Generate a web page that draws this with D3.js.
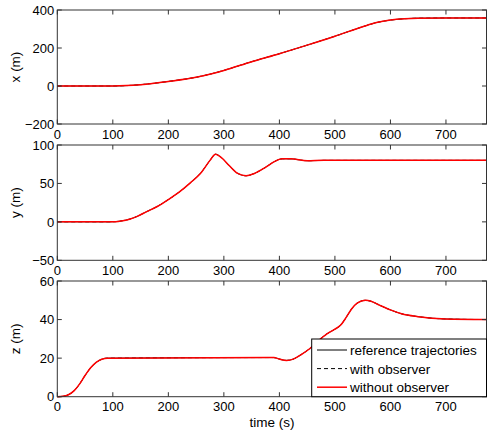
<!DOCTYPE html>
<html>
<head>
<meta charset="utf-8">
<script src="https://cdn.jsdelivr.net/npm/d3@7"></script>
<style>
  body { margin: 0; background: #fff; }
  svg { display: block; }
  text { font-family: "Liberation Sans", Arial, sans-serif; fill: #000; }
</style>
</head>
<body>
<svg width="487" height="437"></svg>
<script>
// data (time in s, position in m)
var xTime = [0, 100, 125, 150, 200, 250, 280, 300, 350, 400, 450, 500, 550, 575, 600, 625, 650, 700, 773];
var xPos  = [0, 0, 2, 7, 24, 46, 66, 82, 128, 170, 215, 262, 312, 334, 347, 354, 357, 358, 358];

var yTime = [0, 95, 105, 115, 130, 145, 160, 180, 200, 220, 240, 260, 275, 285, 295, 310, 325, 340, 355, 375, 390, 405, 420, 450, 480, 500, 773];
var yPos  = [0, 0, 0.3, 1.2, 3.5, 7.5, 13, 20, 29, 39, 51, 65, 80, 88, 84, 73, 63, 60, 63, 71, 78, 82, 82, 79.5, 80, 80, 80];

var zTime = [0, 10, 20, 30, 40, 50, 60, 70, 80, 90, 380, 390, 400, 413, 425, 440, 455, 470, 485, 500, 510, 520, 530, 540, 555, 565, 580, 600, 620, 650, 700, 773];
var zPos  = [0, 0.2, 1, 3, 6.5, 11, 15, 17.8, 19.4, 20, 20.3, 20.3, 19.5, 18.8, 19.5, 22, 25, 29, 32.5, 35, 37, 41, 45.5, 48.5, 50, 49.5, 47.5, 45, 43, 41.5, 40.3, 40];

var timeTicks = [0, 100, 200, 300, 400, 500, 600, 700];
var panelNames = ["x (m)", "y (m)", "z (m)"];
var panelDomains = [[-200, 400], [-50, 100], [0, 60]];
var panelTicks = [[-200, 0, 200, 400], [-50, 0, 50, 100], [0, 20, 40, 60]];
var legendNames = ["reference trajectories", "with observer", "without observer"];

var svg = d3.select("svg");
var left = 57.3, right = 486.5;
var tops = [10, 145, 281], bottoms = [124, 260.3, 396.7];
var fs = 13;

var xScale = d3.scaleLinear().domain([0, 773]).range([left, right]);

var panels = [
  {t: xTime, v: xPos},
  {t: yTime, v: yPos},
  {t: zTime, v: zPos}
];

var fmt = function(d) { return d < 0 ? "\u2212" + Math.abs(d) : "" + d; };
var tickLen = 4.5;

panels.forEach(function(p, i) {
  var yScale = d3.scaleLinear().domain(panelDomains[i]).range([bottoms[i], tops[i]]);
  var g = svg.append("g");
  var pts = p.t.map(function(t, k) { return [t, p.v[k]]; });

  var line = d3.line()
    .x(function(d) { return xScale(d[0]); })
    .y(function(d) { return yScale(d[1]); })
    .curve(d3.curveMonotoneX);

  // reference and with-observer lie under the red one
  g.append("path").attr("d", line(pts)).attr("fill", "none").attr("stroke", "#000").attr("stroke-width", 0.8);
  g.append("path").attr("d", line(pts)).attr("fill", "none").attr("stroke", "#000").attr("stroke-width", 0.8).attr("stroke-dasharray", "4,3");
  g.append("path").attr("d", line(pts)).attr("fill", "none").attr("stroke", "#ff0000").attr("stroke-width", 1.5);

  // ticks inside the box, on all four sides
  timeTicks.forEach(function(t) {
    var x = xScale(t);
    g.append("line").attr("x1", x).attr("x2", x).attr("y1", bottoms[i]).attr("y2", bottoms[i] - tickLen).attr("stroke", "#333");
    g.append("line").attr("x1", x).attr("x2", x).attr("y1", tops[i]).attr("y2", tops[i] + tickLen).attr("stroke", "#333");
    g.append("text").attr("x", x).attr("y", bottoms[i] + 14.5).attr("text-anchor", "middle").attr("font-size", fs).text(t);
  });
  panelTicks[i].forEach(function(v) {
    var y = yScale(v);
    g.append("line").attr("x1", left).attr("x2", left + tickLen).attr("y1", y).attr("y2", y).attr("stroke", "#333");
    g.append("line").attr("x1", right).attr("x2", right - tickLen).attr("y1", y).attr("y2", y).attr("stroke", "#333");
    g.append("text").attr("x", left - 3).attr("y", y + 4.7).attr("text-anchor", "end").attr("font-size", fs).text(fmt(v));
  });

  g.append("rect").attr("x", left).attr("y", tops[i])
    .attr("width", right - left).attr("height", bottoms[i] - tops[i])
    .attr("fill", "none").attr("stroke", "#333").attr("stroke-width", 1);

  g.append("text")
    .attr("transform", "translate(20," + (tops[i] + bottoms[i]) / 2 + ") rotate(-90)")
    .attr("text-anchor", "middle").attr("font-size", 13.5).text(panelNames[i]);
});

svg.append("text").attr("x", (left + right) / 2).attr("y", 427)
  .attr("text-anchor", "middle").attr("font-size", 13.5).text("time (s)");

// legend
var lg = svg.append("g");
lg.append("rect").attr("x", 311.7).attr("y", 339).attr("width", right - 311.7).attr("height", 396.7 - 339)
  .attr("fill", "#fff").attr("stroke", "#000").attr("stroke-width", 1);
var legendStyles = [
  {c: "#000", dash: null},
  {c: "#000", dash: "4,3"},
  {c: "#ff0000", dash: null}
];
legendNames.forEach(function(name, k) {
  var y = 350 + k * 18.6;
  lg.append("line").attr("x1", 317).attr("x2", 347).attr("y1", y).attr("y2", y)
    .attr("stroke", legendStyles[k].c).attr("stroke-width", k == 2 ? 1.5 : 1)
    .attr("stroke-dasharray", legendStyles[k].dash);
  lg.append("text").attr("x", 350).attr("y", y + 5).attr("font-size", 13.5).text(name);
});
</script>
</body>
</html>
